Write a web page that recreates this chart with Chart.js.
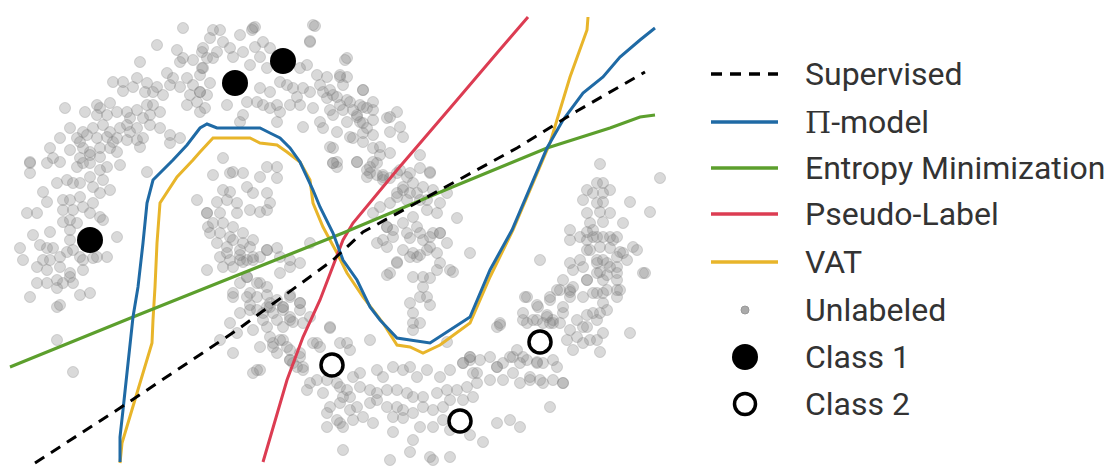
<!DOCTYPE html>
<html>
<head>
<meta charset="utf-8">
<script src="https://cdn.jsdelivr.net/npm/chart.js@4.4.0/dist/chart.umd.min.js"></script>
<style>
    body { margin: 0; background: #fff; width: 1113px; height: 468px; overflow: hidden; position: relative; }
    #wrap { position: absolute; left: 0; top: 0; width: 690px; height: 468px; }
    .legend { position: absolute; left: 700px; top: 0; width: 413px; height: 468px; font-family: Roboto, "Noto Sans", sans-serif; font-size: 32px; color: #333; }
    .item { position: absolute; left: 0; height: 40px; line-height: 40px; }
    .item svg { position: absolute; left: 0; top: 0; }
    .item span.lbl { position: absolute; left: 105px; top: 0; white-space: nowrap; }
    .pi { font-family: "DejaVu Serif", "Liberation Serif", serif; font-size: 30px; }
</style>
</head>
<body>
<div id="wrap"><canvas id="moons"></canvas></div>
<div class="legend" id="legend"></div>
<script>
// plot coordinates (x right, y down)
const xRange = [0, 690];
const yRange = [0, 468];

// decision boundaries
const supervised = [[35,463],[120,408],[237,330],[333,260],[363,232],[517,148],[577,111],[645,72]];
const piModel = [[120,462],[120,437],[123,410],[133,317],[138,287],[143,243],[147,203],[153,180],[173,160],[187,145],
    [200,128],[207,124],[217,128],[260,128],[270,133],[280,138],[290,148],[300,162],[313,190],[320,207],[333,233],
    [343,260],[357,280],[370,307],[380,320],[397,338],[410,340],[430,343],[470,317],[490,270],[512,230],[547,148],
    [563,120],[583,93],[603,77],[620,57],[640,40],[655,28]];
const entropyMin = [[10,367],[133,317],[343,233],[450,188],[547,148],[610,128],[640,117],[655,115]];
const pseudoLabel = [[263,462],[287,380],[303,337],[320,300],[343,240],[353,223],[397,170],[457,100],[497,53],[528,17]];
const vat = [[120,463],[122,443],[137,393],[152,343],[153,320],[155,287],[157,243],[160,203],[177,177],[193,160],
    [200,152],[213,138],[250,138],[260,143],[277,145],[287,152],[300,162],[310,180],[313,203],[323,227],[337,253],
    [347,273],[363,297],[383,323],[397,345],[410,347],[423,353],[440,345],[470,323],[490,277],[513,230],[550,143],
    [570,77],[587,30],[588,17]];

// labeled points
const class1 = [[90,240],[235,83],[283,61]];
const class2 = [[332,365],[540,342],[460,421]];

// unlabeled two-moons points
const unlabeled = [
    [183,28],[157,45],[177,50],[180,62],[183,58],[193,60],[202,52],[202,68],[140,62],
    [167,73],[173,78],[170,85],[180,87],[187,78],[193,85],[200,92],[190,95],[197,102],[187,105],[205,108],[200,112],
    [137,78],[147,83],[157,87],[163,95],[153,92],[113,82],[123,82],[123,91],[133,87],[145,92],
    [110,103],[100,108],[117,112],[127,112],[137,110],[147,105],[153,105],[160,112],[150,115],[143,118],[130,118],
    [65,108],[85,112],[97,105],[97,115],[107,115],
    [70,128],[83,132],[93,128],[103,125],[110,132],[120,128],[127,125],[130,132],[137,128],[150,125],[160,128],
    [60,138],[77,138],[80,142],[87,135],[97,138],[107,137],[113,142],[117,138],[127,140],[137,140],[143,138],[170,135],[170,143],[180,138],
    [50,148],[70,150],[83,148],[90,152],[100,148],[110,148],[117,152],[140,147],
    [30,162],[53,158],[80,158],[90,155],[100,157],
    [213,30],[220,30],[253,28],[255,27],[315,26],[313,25],[310,42],
    [210,38],[223,42],[240,35],[252,30],[263,42],[310,41],
    [203,48],[217,52],[230,48],[243,52],[255,47],[260,57],[270,48],
    [207,58],[213,58],[233,57],[250,65],[267,68],[300,68],[307,65],[317,75],[327,77],[340,75],[347,58],[347,77],[363,90],[343,85],
    [203,68],[200,75],[210,83],[207,95],[200,92],
    [260,88],[270,92],[280,82],[287,85],[293,88],[297,97],[303,88],[310,92],[320,85],[323,92],[327,98],[333,95],
    [340,105],[350,102],[360,105],[367,108],[373,102],[387,118],[390,132],[397,112],
    [227,105],[247,102],[257,102],[263,105],[270,108],[277,105],[280,112],[290,105],[300,105],[313,108],
    [243,115],[240,122],[277,122],[303,127],
    [320,122],[323,128],[333,115],[337,132],[347,122],[357,115],[360,122],[367,128],[373,135],[353,138],[363,142],
    [373,148],[380,155],[333,148],[337,162],[357,162],[373,162],
    [345,60],[340,77],[330,90],[337,97],[347,100],[363,90],[330,110],[343,110],[353,110],[363,107],[373,110],
    [357,117],[363,123],[373,120],[390,117],[350,137],[363,133],[380,147],[400,127],[403,137],[330,147],[333,163],
    [390,153],[370,173],[383,180],[397,173],[410,173],[430,173],[403,187],[417,193],[427,200],
    [30,163],[30,173],[47,163],[60,162],[77,167],[83,163],[90,163],[100,170],[107,167],[120,165],[147,172],
    [57,183],[67,180],[73,183],[80,183],[90,177],[93,187],[103,180],[110,190],
    [43,192],[47,202],[63,200],[70,200],[80,197],[83,207],[93,203],[100,193],
    [27,213],[37,213],[63,210],[73,210],[90,213],[100,217],[103,220],
    [63,222],[70,220],[77,223],[70,230],[33,235],[50,232],[70,240],[117,237],
    [20,248],[40,245],[47,248],[53,248],[67,252],[73,250],[107,257],[97,257],[80,257],[93,258],
    [23,260],[43,260],[50,260],[60,257],[83,260],
    [37,267],[47,270],[60,267],[70,273],[83,270],[70,277],
    [37,283],[47,283],[57,280],[63,283],[73,283],
    [57,288],[30,297],[80,295],[90,293],[57,307],[60,305],[57,340],[73,372],
    [197,200],[207,213],[208,227],
    [213,175],[230,173],[233,172],[243,173],[260,177],[267,167],[277,167],[277,178],[223,158],
    [223,190],[230,192],[247,187],[253,193],[267,193],
    [217,202],[227,200],[237,203],[250,210],[260,212],[267,210],[270,203],
    [207,213],[220,213],[237,213],
    [213,223],[223,223],[233,227],[210,233],[220,233],[230,237],[243,233],
    [217,243],[227,247],[240,250],[250,247],[260,257],[267,250],[277,248],
    [220,257],[230,260],[223,267],[240,260],[247,260],[253,260],[207,270],
    [280,273],[290,267],[300,263],[290,260],
    [240,283],[247,277],[260,283],[267,287],
    [233,293],[250,293],[257,297],[267,295],[290,295],
    [250,305],[267,307],[283,307],[300,303],
    [333,163],[337,167],[357,162],[367,170],[370,167],[377,163],[367,177],[377,175],[383,177],[397,193],[390,203],[380,207],[373,213],
    [377,243],[387,247],[393,237],[387,227],[390,273],[397,263],[310,243],
    [233,240],[243,243],[253,240],[227,253],[240,255],[253,257],[233,267],[243,262],[267,250],[280,257],
    [247,277],[233,297],[247,297],[257,283],[270,303],[277,300],[290,297],
    [250,310],[263,313],[273,313],[283,307],[290,317],[293,322],[300,310],[310,317],
    [230,323],[237,333],[267,327],[253,330],[240,313],
    [220,340],[233,353],[260,347],[273,343],[283,340],[277,353],[287,347],[290,360],[300,357],[313,343],[330,327],
    [253,373],[260,370],[303,367],[293,363],
    [420,155],[420,168],[430,172],[400,170],[407,177],[413,183],[403,190],[410,193],[390,178],[383,175],[423,187],[433,190],[447,193],
    [397,197],[407,200],[420,200],[427,210],[437,213],[457,218],[440,203],
    [387,227],[393,230],[403,223],[413,217],[417,227],[407,233],[420,233],[423,240],[433,233],[440,233],[447,243],[430,247],[383,240],
    [403,250],[413,253],[417,257],[427,250],[437,253],[440,263],[470,253],[397,262],[387,275],[413,277],[423,277],[430,278],[437,270],[450,270],[453,272],
    [423,287],[427,297],[420,297],[430,305],[410,303],[413,313],[413,323],[420,323],[500,323],
    [410,238],[430,237],[440,233],[410,257],[420,255],[413,330],[447,342],
    [257,310],[270,307],[283,310],[300,303],[263,320],[277,320],[290,320],[303,323],[283,327],
    [330,328],[317,343],[320,347],[340,343],[347,343],[350,350],[370,340],[270,337],[280,340],[273,347],[290,350],[300,353],
    [257,370],[290,360],[297,367],[303,370],[310,383],[317,380],[307,390],
    [327,380],[337,383],[340,387],[347,390],[343,397],[350,397],[323,393],[330,407],[340,403],[350,410],[327,413],[337,420],[343,427],
    [353,377],[360,373],[377,370],[383,377],[393,367],[403,370],[410,367],[417,377],[427,370],[440,377],[450,370],[463,363],[470,357],[473,373],
    [360,387],[370,390],[377,393],[387,390],[397,390],[407,393],[413,397],[423,397],[437,393],[447,390],[457,390],[467,387],[477,383],
    [357,407],[370,403],[377,400],[387,407],[397,407],[403,410],[413,413],[423,407],[433,410],[443,407],[450,400],[463,400],[473,397],
    [363,417],[373,423],[393,417],[403,418],[420,427],[433,427],[443,420],[450,430],
    [327,427],[340,423],[353,420],[343,450],[390,460],[413,440],[430,457],[450,457],[410,452],[433,460],
    [483,442],[393,432],[470,435],[520,427],[510,420],[497,423],[550,407],[563,383],[543,383],[557,367],[530,377],
    [513,373],[497,367],[510,357],[523,357],[537,362],[480,360],[470,357],[463,363],
    [497,327],[523,313],[527,323],[537,320],[547,317],[553,323],[563,313],[570,330],[577,337],[590,340],[603,333],[630,333],
    [583,327],[597,320],[577,320],[563,307],[550,300],[560,290],[570,290],[583,297],[593,293],[603,303],[607,310],[593,313],
    [537,305],[540,260],[527,297],[563,280],[573,287],[587,280],[597,273],[607,263],[617,267],[603,280],[617,280],[620,290],
    [617,297],[607,290],[643,273],[623,253],[633,247],[613,240],[593,237],[580,237],[570,240],[587,250],[570,263],[583,267],
    [597,260],[570,297],
    [600,164],[660,178],[597,183],[603,183],[610,190],[587,190],[593,193],[603,193],
    [583,200],[597,203],[603,202],[630,202],[650,212],[587,213],[600,212],[610,213],
    [590,223],[603,222],[623,223],[593,230],[587,232],[570,230],[597,237],[603,237],[610,237],[617,237],
    [587,240],[590,250],[600,247],[610,248],[620,252],[637,250],[627,260],[617,257],
    [580,260],[597,263],[603,260],[610,267],[600,272],[607,275],[617,273],[645,273],
    [573,270],[587,280],[617,290],[597,293],[603,293],[570,292],[557,290],[550,297],
    [600,313],[587,315],[547,315],[553,320],[523,320],[533,320],[543,323],[550,323],[560,323],[587,327],
    [567,340],[583,343],[597,340],[573,350],[600,352],[500,325],[525,297],[538,307],
    [470,360],[490,357],[497,367],[503,363],[513,357],[517,350],[520,363],[527,360],[537,363],[543,363],[553,360],
    [477,373],[490,380],[503,380],[520,383],[530,380],[540,380],[553,380],[563,383]
];

function toXY(pairs) {
    return pairs.map(p => ({x: p[0], y: p[1]}));
}

function lineSet(label, pairs, color, dash) {
    return {
        label: label,
        type: 'scatter',
        showLine: true,
        data: toXY(pairs),
        borderColor: color,
        borderWidth: 3,
        borderDash: dash || [],
        pointRadius: 0,
        fill: false,
        tension: 0,
        order: 1
    };
}

const datasets = [
    {
        label: 'Class 1',
        data: toXY(class1),
        pointRadius: 13,
        backgroundColor: '#000',
        borderColor: '#000',
        borderWidth: 0,
        order: 0
    },
    {
        label: 'Class 2',
        data: toXY(class2),
        pointRadius: 11,
        backgroundColor: '#fff',
        borderColor: '#000',
        borderWidth: 3.5,
        order: 0
    },
    lineSet('Supervised', supervised, '#000', [11, 8]),
    lineSet('Π-model', piModel, '#1f6aa5'),
    lineSet('Entropy Minimization', entropyMin, '#5c9f2d'),
    lineSet('Pseudo-Label', pseudoLabel, '#dc3c52'),
    lineSet('VAT', vat, '#e8b52a'),
    {
        label: 'Unlabeled',
        data: toXY(unlabeled),
        pointRadius: 5.5,
        backgroundColor: 'rgba(130,130,130,0.3)',
        borderColor: 'rgba(120,120,120,0.28)',
        borderWidth: 1,
        order: 5
    }
];

new Chart(document.getElementById('moons'), {
    type: 'scatter',
    data: { datasets: datasets },
    options: {
        responsive: true,
        maintainAspectRatio: false,
        animation: false,
        layout: { padding: 0, autoPadding: false },
        plugins: { legend: { display: false }, tooltip: { enabled: false } },
        scales: {
            x: { type: 'linear', min: xRange[0], max: xRange[1], display: false },
            y: { type: 'linear', min: yRange[0], max: yRange[1], reverse: true, display: false }
        }
    }
});

// legend on the right, built by hand
const legendRows = [
    {name: 'Supervised', kind: 'line', color: '#000', dash: '11 8', y: 74},
    {name: '<span class="pi">Π</span>-model', kind: 'line', color: '#1f6aa5', y: 122},
    {name: 'Entropy Minimization', kind: 'line', color: '#5c9f2d', y: 168},
    {name: 'Pseudo-Label', kind: 'line', color: '#dc3c52', y: 214},
    {name: 'VAT', kind: 'line', color: '#e8b52a', y: 262},
    {name: 'Unlabeled', kind: 'dot', y: 310},
    {name: 'Class 1', kind: 'filled', y: 357},
    {name: 'Class 2', kind: 'open', y: 404}
];

let legendHtml = '';
for (const row of legendRows) {
    let mark = '';
    if (row.kind === 'line') {
        mark = '<line x1="11" y1="20" x2="78" y2="20" stroke="' + row.color + '" stroke-width="3.5"' +
            (row.dash ? ' stroke-dasharray="' + row.dash + '"' : '') + '/>';
    } else if (row.kind === 'dot') {
        mark = '<circle cx="45" cy="20" r="4" fill="#aaa" stroke="#999" stroke-width="1"/>';
    } else if (row.kind === 'filled') {
        mark = '<circle cx="45" cy="20" r="13" fill="#000"/>';
    } else {
        mark = '<circle cx="45" cy="20" r="10.5" fill="#fff" stroke="#000" stroke-width="3.5"/>';
    }
    legendHtml += '<div class="item" style="top:' + (row.y - 20) + 'px">' +
        '<svg width="90" height="40">' + mark + '</svg>' +
        '<span class="lbl">' + row.name + '</span></div>';
}
document.getElementById('legend').innerHTML = legendHtml;
</script>
</body>
</html>
